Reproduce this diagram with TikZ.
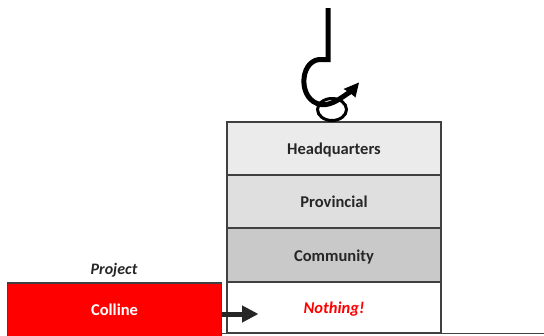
\documentclass[tikz,border=0pt]{standalone}
\usepackage{fontspec}
\setmainfont{Carlito}
\usetikzlibrary{arrows.meta,shapes.geometric}
\definecolor{txt}{HTML}{262626}
\definecolor{edge}{HTML}{404040}
\definecolor{hqfill}{HTML}{EBEBEB}
\definecolor{provfill}{HTML}{DFDFE0}
\definecolor{commfill}{HTML}{C9C9C9}
\definecolor{redfill}{HTML}{FF0000}
\tikzset{
  layer/.style={draw=edge, line width=1.3pt, outer sep=0pt, minimum width=214pt, inner sep=0pt, text height=12.6pt, text depth=0pt, font=\fontsize{16.5}{16.5}\selectfont\bfseries, text=txt},
  hookline/.style={line width=5pt, black},
}
\begin{document}
\begin{tikzpicture}[x=1pt,y=-1pt]
\useasboundingbox (0,0) rectangle (544,335);
\node[layer, fill=hqfill, minimum height=53pt, anchor=north west] (hq) at (227,122) {Headquarters};
\node[layer, fill=provfill, minimum height=53pt, anchor=north] (prov) at (hq.south) {Provincial};
\node[layer, fill=commfill, minimum height=54pt, anchor=north] (comm) at (prov.south) {Community};
\node[layer, fill=white, minimum height=51pt, anchor=north, text=red, font=\fontsize{16.5}{16.5}\selectfont\bfseries\itshape] (noth) at (comm.south) {Nothing!};
\node[layer, fill=redfill, minimum height=54pt, anchor=north west, text=white, text height=10.6pt] (col) at (7.5,283) {Colline};
\node[anchor=base, text=txt, font=\fontsize{16}{16}\selectfont\bfseries\itshape, inner sep=0pt] (proj) at (114,274.5) {Project};
\coordinate (bl) at (222,333.5);
\coordinate (br) at (544,333.5);
\draw[edge, line width=1.8pt] (bl) -- (br);
\coordinate (arrend) at (258.5,314);
\draw[line width=5pt, txt, -{Triangle[length=16.5pt,width=16pt]}] (col.east |- arrend) -- (arrend);
% hook
\coordinate (htop) at (328,8);
\coordinate (hbend) at (328,59.5);
\coordinate (htip) at (359,82.5);
\draw[hookline, line join=miter] (htop) -- (hbend) -- (319,59.5)
  .. controls (299,62) and (298,101) .. (321,104.5)
  .. controls (332,106) and (342,97) .. (350,92);
\fill[black] (htip) -- (343.5,89) -- (349,92) -- (355.5,97.5) -- cycle;
\node[draw=black, line width=3pt, ellipse, minimum width=29pt, minimum height=22pt, inner sep=0pt] (ring) at (332,109.5) {};
\end{tikzpicture}
\end{document}
